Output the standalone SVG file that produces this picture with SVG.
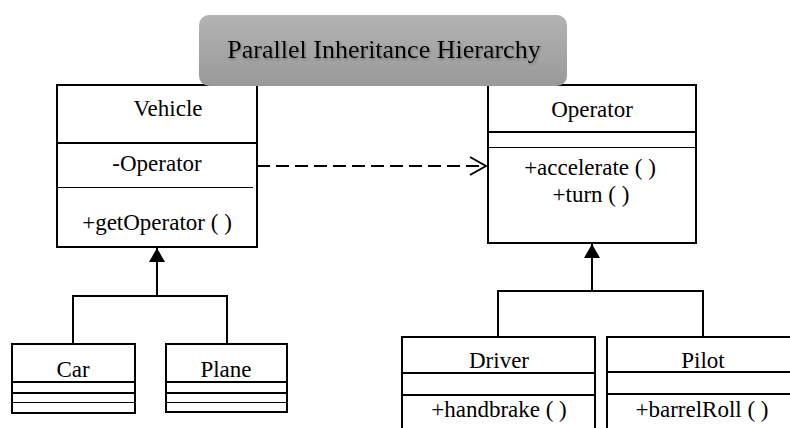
<svg xmlns="http://www.w3.org/2000/svg" width="790" height="428" viewBox="0 0 790 428">
  <defs>
    <linearGradient id="titleFill" x1="0" y1="0" x2="0" y2="1">
      <stop offset="0" stop-color="#b3b3b3"/>
      <stop offset="1" stop-color="#999999"/>
    </linearGradient>
    <filter id="textShadow" x="-5%" y="-30%" width="110%" height="160%">
      <feDropShadow dx="1" dy="1.5" stdDeviation="1" flood-color="#555555" flood-opacity="0.6"/>
    </filter>
    <marker id="inherit" viewBox="0 0 14 16" refX="14" refY="8" markerWidth="14" markerHeight="16" markerUnits="userSpaceOnUse" orient="auto">
      <path d="M0,0 L14,8 L0,16 Z" fill="#000"/>
    </marker>
    <marker id="openArrow" viewBox="0 0 18 20" refX="17" refY="10" markerWidth="18" markerHeight="20" markerUnits="userSpaceOnUse" orient="auto">
      <path d="M1,1 L17,10 L1,19" fill="none" stroke="#000" stroke-width="2"/>
    </marker>
  </defs>
  <style>
    .box { fill: #ffffff; stroke: #000000; stroke-width: 2; }
    .div { stroke: #000000; stroke-width: 2; }
    .thin { stroke: #000000; stroke-width: 1; }
    text { font-family: 'Liberation Serif', 'DejaVu Serif', 'Times New Roman', serif; fill: #000000; text-anchor: middle; }
    .lbl { font-size: 23px; }
    .title { font-size: 26px; }
    .wire { fill: none; stroke: #000000; stroke-width: 2; }
  </style>

  <rect width="790" height="428" fill="#ffffff"/>

  <!-- connectors -->
  <g id="connectors">
    <path class="wire" d="M157,296 L157,248" marker-end="url(#inherit)"/>
    <path class="wire" d="M73,344 L73,296 L227,296 L227,344"/>
    <path class="wire" d="M592,291 L592,244" marker-end="url(#inherit)"/>
    <path class="wire" d="M498,337 L498,291 L703,291 L703,337"/>
    <path class="wire" d="M257,166 L486,166" stroke-dasharray="13 6" marker-end="url(#openArrow)"/>
  </g>

  <!-- Vehicle class -->
  <g id="vehicle" font-family="Liberation Serif, serif">
    <rect class="box" x="57" y="85" width="200" height="162"/>
    <line class="div" x1="57" y1="143" x2="257" y2="143"/>
    <line class="thin" x1="57" y1="187.5" x2="253" y2="187.5"/>
    <text class="lbl" x="168" y="116">Vehicle</text>
    <text class="lbl" x="157" y="171">-Operator</text>
    <text class="lbl" x="157" y="230">+getOperator ( )</text>
  </g>

  <!-- Operator class -->
  <g id="operator">
    <rect class="box" x="488" y="85" width="208" height="158"/>
    <line class="div" x1="488" y1="132" x2="696" y2="132"/>
    <line class="thin" x1="488" y1="147.5" x2="696" y2="147.5"/>
    <text class="lbl" x="592" y="117">Operator</text>
    <text class="lbl" x="590" y="175">+accelerate ( )</text>
    <text class="lbl" x="591" y="202">+turn ( )</text>
  </g>

  <!-- Car class -->
  <g id="car">
    <rect class="box" x="12" y="344" width="123" height="69"/>
    <line class="div" x1="12" y1="382" x2="135" y2="382"/>
    <line class="div" x1="12" y1="393" x2="135" y2="393"/>
    <line class="thin" x1="12" y1="402.5" x2="135" y2="402.5"/>
    <text class="lbl" x="73" y="377">Car</text>
  </g>

  <!-- Plane class -->
  <g id="plane">
    <rect class="box" x="166" y="344" width="121" height="68"/>
    <line class="div" x1="166" y1="382" x2="287" y2="382"/>
    <line class="div" x1="166" y1="393" x2="287" y2="393"/>
    <line class="thin" x1="166" y1="402.5" x2="287" y2="402.5"/>
    <text class="lbl" x="226" y="377">Plane</text>
  </g>

  <!-- Driver class -->
  <g id="driver">
    <rect class="box" x="402" y="337" width="193" height="110"/>
    <line class="div" x1="402" y1="373" x2="595" y2="373"/>
    <line class="div" x1="402" y1="395" x2="595" y2="395"/>
    <text class="lbl" x="499" y="368">Driver</text>
    <text class="lbl" x="499" y="417">+handbrake ( )</text>
  </g>

  <!-- Pilot class -->
  <g id="pilot">
    <rect class="box" x="607" y="337" width="194" height="110"/>
    <line class="div" x1="607" y1="372" x2="801" y2="372"/>
    <line class="div" x1="607" y1="394" x2="801" y2="394"/>
    <text class="lbl" x="703" y="368">Pilot</text>
    <text class="lbl" x="702" y="417">+barrelRoll ( )</text>
  </g>

  <!-- title banner -->
  <g id="title">
    <rect x="199" y="15" width="368" height="71" rx="10" ry="10" fill="url(#titleFill)"/>
    <text class="title" x="384" y="58" filter="url(#textShadow)">Parallel Inheritance Hierarchy</text>
  </g>
</svg>
